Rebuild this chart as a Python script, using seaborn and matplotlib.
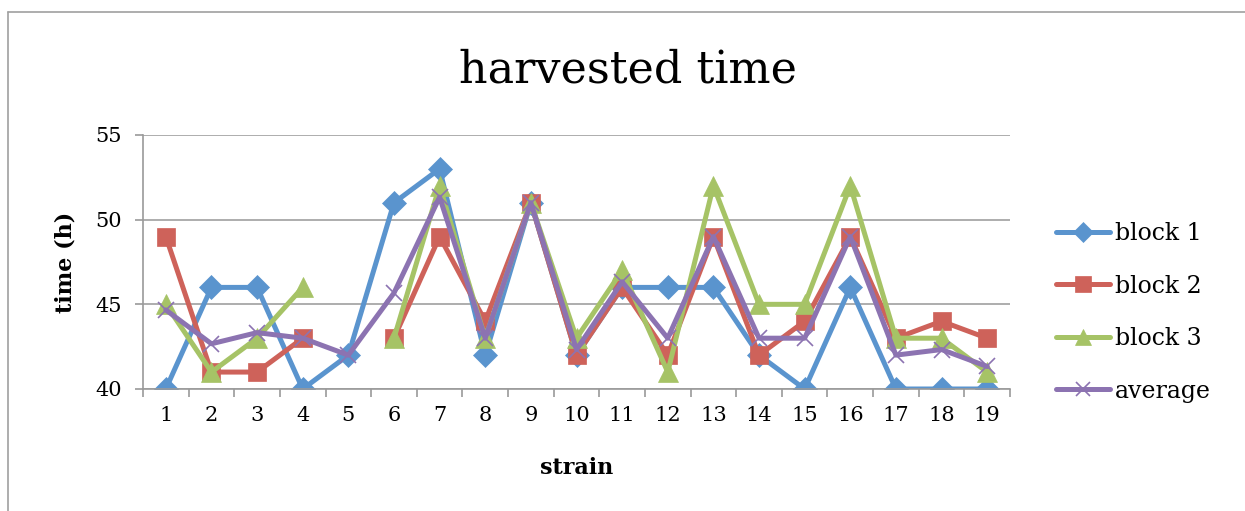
import numpy as np
import pandas as pd
import matplotlib
matplotlib.use("Agg")
import matplotlib.pyplot as plt
from matplotlib.lines import Line2D
from matplotlib.ticker import FixedLocator
import seaborn as sns

strains = list(range(1, 20))
block1 = [40, 46, 46, 40, 42, 51, 53, 42, 51, 42, 46, 46, 46, 42, 40, 46, 40, 40, 40]
block2 = [49, 41, 41, 43, np.nan, 43, 49, 44, 51, 42, 46, 42, 49, 42, 44, 49, 43, 44, 43]
block3 = [45, 41, 43, 46, np.nan, 43, 52, 43, 51, 43, 47, 41, 52, 45, 45, 52, 43, 43, 41]
average = [44.67, 42.67, 43.33, 43, 42, 45.67, 51.33, 43, 51, 42.33, 46.33, 43, 49, 43, 43, 49, 42, 42.33, 41.33]

series_names = ["block 1", "block 2", "block 3", "average"]
series_values = [block1, block2, block3, average]
colors = ["#5A94CE", "#CE625A", "#A6C366", "#8C73B1"]
markers = ["D", "s", "^", "x"]
msizes = [12, 13, 14, 12]

sns.set_theme(style="white")
plt.rcParams["font.family"] = ["DejaVu Serif"]
plt.rcParams["text.color"] = "black"
plt.rcParams["axes.labelcolor"] = "black"
plt.rcParams["xtick.color"] = "black"
plt.rcParams["ytick.color"] = "black"

fig = plt.figure(figsize=(12.45, 5.11), dpi=100)
ax = fig.add_axes([143 / 1245, 1 - 389 / 511, (1010 - 143) / 1245, (389 - 135) / 511])

for name, vals, c, m, ms in zip(series_names, series_values, colors, markers, msizes):
    df = pd.DataFrame({"strain": strains, "time": vals})
    valid = df["time"].notna()
    seg_id = (~valid).cumsum()
    for _, seg in df[valid].groupby(seg_id[valid]):
        sns.lineplot(data=seg, x="strain", y="time", ax=ax, color=c, linewidth=3.6,
                     marker=m, markersize=ms, markeredgecolor=c,
                     markeredgewidth=1.2 if m == "x" else 0.5, legend=False,
                     estimator=None, sort=False)

ax.set_xlim(0.5, 19.5)
ax.set_ylim(40, 55)
ax.set_yticks([40, 45, 50, 55])
ax.set_xticks(strains)
ax.xaxis.set_minor_locator(FixedLocator(np.arange(0.5, 20, 1)))
ax.tick_params(axis="x", which="major", length=0, pad=12, labelsize=15, labelcolor="black")
ax.tick_params(axis="x", which="minor", length=6, width=1.2, color="#9A9A9A", direction="out", bottom=True)
ax.tick_params(axis="y", which="major", length=6, width=1.2, color="#9A9A9A", direction="out", left=True, pad=9, labelsize=15, labelcolor="black")
ax.yaxis.grid(True, color="#A0A0A0", linewidth=1.2)
ax.set_axisbelow(True)
for s in ["top", "right"]:
    ax.spines[s].set_visible(False)
for s in ["left", "bottom"]:
    ax.spines[s].set_color("#9A9A9A")
    ax.spines[s].set_linewidth(1.2)

ax.set_xlabel("strain", fontsize=16, fontweight="bold", labelpad=23, color="black")
ax.set_ylabel("time (h)", fontsize=16, fontweight="bold", labelpad=14, color="black")
fig.text(628 / 1245, 1 - 70 / 511, "harvested time", ha="center", va="center", fontsize=32, color="black")

handles = [Line2D([0], [0], color=c, linewidth=3.6, marker=m, markersize=ms * 0.85,
                  markeredgecolor=c, markeredgewidth=1.2 if m == "x" else 0.5)
           for c, m, ms in zip(colors, markers, msizes)]
leg = fig.legend(handles, series_names, loc="upper left", bbox_to_anchor=(1056 / 1245, 1 - 222 / 511),
                 frameon=False, fontsize=17, handlelength=2.3, handletextpad=0.2, labelspacing=1.25,
                 borderaxespad=0, borderpad=0)
for t in leg.get_texts():
    t.set_color("black")

# chart frame
fig.add_artist(Line2D([8 / 1245, 8 / 1245], [0, 1 - 12 / 511], transform=fig.transFigure, color="#A0A0A0", linewidth=1.2))
fig.add_artist(Line2D([8 / 1245, 1], [1 - 12 / 511, 1 - 12 / 511], transform=fig.transFigure, color="#A0A0A0", linewidth=1.2))

fig.savefig("out.png", dpi=100, facecolor="white")
